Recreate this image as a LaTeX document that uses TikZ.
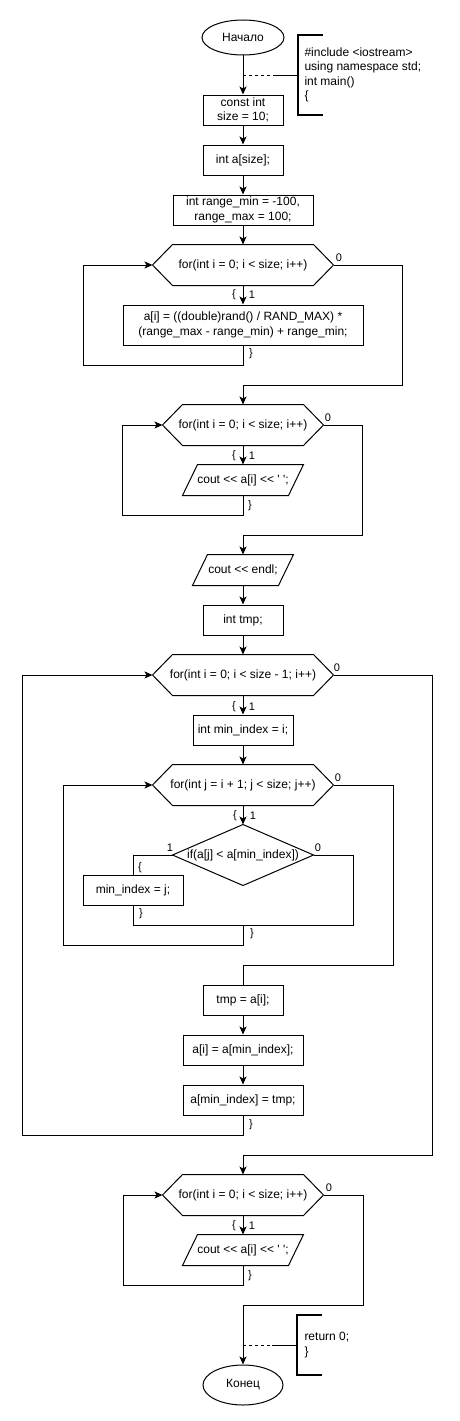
\documentclass[tikz,border=0pt]{standalone}
\usepackage{fontspec}
\setmainfont{Liberation Sans}[Ligatures=TeXOff]
\usetikzlibrary{arrows.meta,shapes.geometric}
\newcommand\hexo[1]{\draw (#1.west) -- ([xshift=20pt]#1.north west) -- ([xshift=-20pt]#1.north east) -- (#1.east) -- ([xshift=-20pt]#1.south east) -- ([xshift=20pt]#1.south west) -- cycle;}
\newcommand\parao[1]{\draw ([xshift=15pt]#1.north west) -- (#1.north east) -- ([xshift=-15pt]#1.south east) -- (#1.south west) -- cycle;}
\begin{document}
\begin{tikzpicture}[x=1pt,y=-1pt, line width=1pt,
  every node/.style={font=\fontsize{12}{14.4}\selectfont, inner sep=0pt},
  proc/.style={draw, rectangle, align=center},
  term/.style={draw, ellipse},
  shp/.style={rectangle, align=center},
  lbl/.style={font=\fontsize{11}{13}\selectfont},
  arr/.style={-{Stealth[length=8pt,width=7pt,inset=2pt]}},
  brk/.style={line width=2pt},
  dsh/.style={dash pattern=on 3pt off 3pt},
]
\useasboundingbox (0,0) rectangle (459,1421);
% nodes
\node[term, minimum width=82pt, minimum height=35pt] (start) at (243,37.5) {Начало};
\node[proc, minimum width=80pt, minimum height=30pt] (b1) at (243,110) {const int\\size = 10;};
\node[proc, minimum width=80pt, minimum height=30pt] (b2) at (243,160) {int a[size];};
\node[proc, minimum width=140pt, minimum height=30pt] (b3) at (243,210) {int range\_min = -100,\\range\_max = 100;};
\node[shp, minimum width=180pt, minimum height=40pt] (h1) at (243,265) {for(int i = 0; i < size; i++)};
\hexo{h1}
\node[proc, minimum width=240pt, minimum height=40pt] (b4) at (243,325) {a[i] = ((double)rand() / RAND\_MAX) *\\(range\_max - range\_min) + range\_min;};
\node[shp, minimum width=160pt, minimum height=40pt] (h2) at (243,425) {for(int i = 0; i < size; i++)};
\hexo{h2}
\node[shp, minimum width=120pt, minimum height=30pt] (p1) at (243,480) {cout <\kern0pt< a[i] <\kern0pt< \textquotesingle\ \textquotesingle;};
\parao{p1}
\node[shp, minimum width=100pt, minimum height=30pt] (p2) at (243,570) {cout <\kern0pt< endl;};
\parao{p2}
\node[proc, minimum width=80pt, minimum height=30pt] (b5) at (243,620) {int tmp;};
\node[shp, minimum width=180pt, minimum height=40pt] (h3) at (243,675) {for(int i = 0; i < size - 1; i++)};
\hexo{h3}
\node[proc, minimum width=100pt, minimum height=30pt] (b6) at (243,730) {int min\_index = i;};
\node[shp, minimum width=180pt, minimum height=40pt] (h4) at (243,785) {for(int j = i + 1; j < size; j++)};
\hexo{h4}
\node[shp, minimum width=140pt, minimum height=60pt] (d1) at (243,855) {if(a[j] < a[min\_index])};
\draw (d1.north) -- (d1.east) -- (d1.south) -- (d1.west) -- cycle;
\node[proc, minimum width=100pt, minimum height=30pt] (b7) at (133,890) {min\_index = j;};
\node[proc, minimum width=80pt, minimum height=30pt] (b8) at (243,1000) {tmp = a[i];};
\node[proc, minimum width=120pt, minimum height=30pt] (b9) at (243,1050) {a[i] = a[min\_index];};
\node[proc, minimum width=120pt, minimum height=30pt] (b10) at (243,1100) {a[min\_index] = tmp;};
\node[shp, minimum width=160pt, minimum height=40pt] (h5) at (243,1195) {for(int i = 0; i < size; i++)};
\hexo{h5}
\node[shp, minimum width=120pt, minimum height=30pt] (p3) at (243,1250) {cout <\kern0pt< a[i] <\kern0pt< \textquotesingle\ \textquotesingle;};
\parao{p3}
\node[term, minimum width=80pt, minimum height=40pt] (end) at (243,1385) {Конец};
% comments
\node[anchor=west, align=left] (c1) at (304,75) {\#include <iostream>\\using namespace std;\\int main()\\\{};
\coordinate (k1) at (243,75);
\coordinate (k1b) at (274,75);
\coordinate (k1c) at (298,75);
\draw[dsh] (k1) -- (k1b);
\draw (k1b) -- (k1c);
\draw[brk] (323,35) -- (298,35) -- (298,115) -- (323,115);
\node[anchor=west, align=left] (c2) at (304,1345) {return 0;\\\}};
\coordinate (k2) at (243,1345);
\coordinate (k2b) at (272,1345);
\coordinate (k2c) at (297,1345);
\draw[dsh] (k2) -- (k2b);
\draw (k2b) -- (k2c);
\draw[brk] (322,1315) -- (297,1315) -- (297,1375) -- (322,1375);
% connectors
\draw[arr] (start) -- (b1);
\draw[arr] (b1) -- (b2);
\draw[arr] (b2) -- (b3);
\draw[arr] (b3) -- (h1.north);
\draw[arr] (h1.south) -- (b4.north);
\draw[arr] (b4.south) -- (243,365) -- (83,365) |- (h1.west);
\draw[arr] (h1.east) -| (402,385) -| (h2.north);
\draw[arr] (h2.south) -- (p1.north);
\draw[arr] (p1.south) -- (243,515) -- (122,515) |- (h2.west);
\draw[arr] (h2.east) -| (362,535) -| (p2.north);
\draw[arr] (p2.south) -- (b5.north);
\draw[arr] (b5.south) -- (h3.north);
\draw[arr] (h3.south) -- (b6.north);
\draw[arr] (b6.south) -- (h4.north);
\draw[arr] (h4.south) -- (d1.north);
\draw (d1.west) -| (b7.north);
\coordinate (m1) at (243,925);
\draw (d1.east) -- (353,855) |- (133,925) -- (b7.south);
\draw[arr] (m1) -- (243,945) -- (63,945) |- (h4.west);
\draw (h4.east) -| (393,965) -| (b8.north);
\draw[arr] (b8.south) -- (b9.north);
\draw[arr] (b9.south) -- (b10.north);
\draw[arr] (b10.south) -- (243,1135) -- (22,1135) |- (h3.west);
\draw[arr] (h3.east) -| (432,1155) -| (h5.north);
\draw[arr] (h5.south) -- (p3.north);
\draw[arr] (p3.south) -- (243,1285) -- (123,1285) |- (h5.west);
\draw[arr] (h5.east) -| (363,1305) -| (end.north);
% labels
\node[lbl] (l1o) at (234,295) {\{};
\node[lbl] (l1i) at (252,295) {1};
\node[lbl] (l1c) at (251,354) {\}};
\node[lbl] (l1z) at (339,258) {0};
\node[lbl] (l2o) at (234,456) {\{};
\node[lbl] (l2i) at (252,456) {1};
\node[lbl] (l2c) at (250,506) {\}};
\node[lbl] (l2z) at (328,418) {0};
\node[lbl] (l3o) at (234,707) {\{};
\node[lbl] (l3i) at (252,707) {1};
\node[lbl] (l3c) at (251,1125) {\}};
\node[lbl] (l3z) at (337,668) {0};
\node[lbl] (l4o) at (235,816) {\{};
\node[lbl] (l4i) at (253,816) {1};
\node[lbl] (l4c) at (252,934) {\}};
\node[lbl] (l4z) at (338,778) {0};
\node[lbl] (ldi) at (170,848) {1};
\node[lbl] (ldz) at (318,848) {0};
\node[lbl] (ldo) at (140,868) {\{};
\node[lbl] (ldc) at (141,914) {\}};
\node[lbl] (l5o) at (234,1226) {\{};
\node[lbl] (l5i) at (252,1226) {1};
\node[lbl] (l5c) at (250,1276) {\}};
\node[lbl] (l5z) at (329,1188) {0};
\end{tikzpicture}
\end{document}
